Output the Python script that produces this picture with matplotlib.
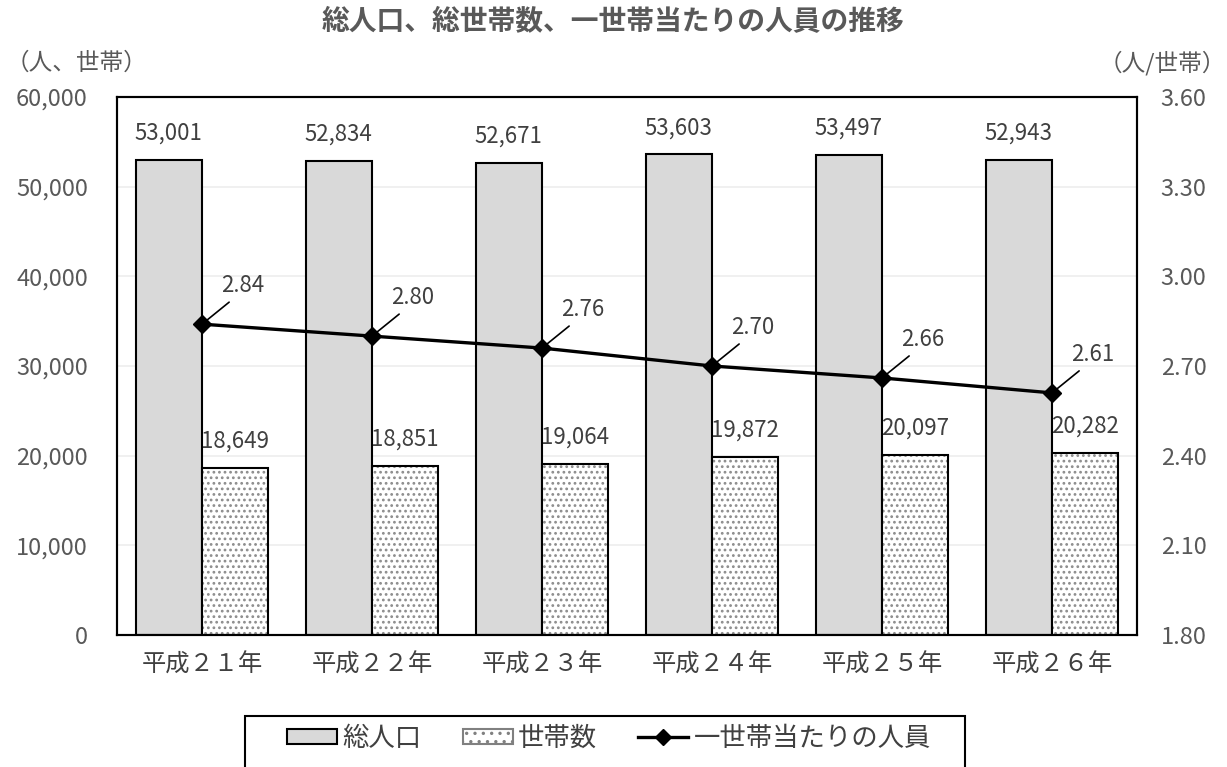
import matplotlib
matplotlib.use("Agg")
import matplotlib.pyplot as plt
import numpy as np
from matplotlib.patches import Patch, Rectangle
from matplotlib.lines import Line2D

plt.rcParams['font.family'] = ['Noto Sans CJK JP', 'DejaVu Sans']
plt.rcParams['hatch.linewidth'] = 1.2

categories = ["平成２１年", "平成２２年", "平成２３年", "平成２４年", "平成２５年", "平成２６年"]
population = [53001, 52834, 52671, 53603, 53497, 52943]
households = [18649, 18851, 19064, 19872, 20097, 20282]
per_household = [2.84, 2.80, 2.76, 2.70, 2.66, 2.61]

left_ticks = [0, 10000, 20000, 30000, 40000, 50000, 60000]
right_ticks = [1.80, 2.10, 2.40, 2.70, 3.00, 3.30, 3.60]

GRAY = "#595959"
fig = plt.figure(figsize=(12.27, 7.67), dpi=100)
ax = fig.add_axes([117/1227, 1-635/767, 1020/1227, 538/767])
ax2 = ax.twinx()

x = np.arange(len(categories))
w = 0.39
ax.bar(x - w/2, population, w, color="#D9D9D9", edgecolor="black", linewidth=1.5, zorder=2)
ax.bar(x + w/2, households, w, color="white", edgecolor="#8C8C8C", hatch="...", linewidth=0, zorder=2)
ax.bar(x + w/2, households, w, color="none", edgecolor="black", linewidth=1.5, zorder=3)

for xi, v in zip(x, population):
    ax.text(xi - w/2, v + 1700, f"{v:,}", ha="center", va="bottom", fontsize=16, color="#404040")
for xi, v in zip(x, households):
    ax.text(xi + w/2, v + 1700, f"{v:,}", ha="center", va="bottom", fontsize=16, color="#404040")

ax.set_ylim(0, 60000)
ax.set_xlim(-0.5, len(categories) - 0.5)
ax.set_yticks(left_ticks)
ax.set_yticklabels([f"{t:,}" for t in left_ticks])
ax.set_xticks(x)
ax.set_xticklabels(categories)
ax.tick_params(axis='y', length=0, pad=21, labelsize=17, labelcolor=GRAY)
ax.tick_params(axis='x', length=0, pad=12, labelsize=17.5, labelcolor="#404040")
ax.grid(axis='y', color="#EDEDED", linewidth=1.2, zorder=0)
ax.set_axisbelow(True)
for s in ax.spines.values():
    s.set_color("black"); s.set_linewidth(1.5)
for s in ax2.spines.values():
    s.set_color("black"); s.set_linewidth(1.5)

ax2.plot(x, per_household, color="black", linewidth=2.4, marker="D", markersize=9, zorder=5)
ax2.set_ylim(1.80, 3.60)
ax2.set_yticks(right_ticks)
ax2.set_yticklabels([f"{t:.2f}" for t in right_ticks])
ax2.tick_params(axis='y', length=0, pad=17, labelsize=17, labelcolor=GRAY)

for xi, v in zip(x, per_household):
    ax2.annotate(f"{v:.2f}", xy=(xi, v), xytext=(29, 28), textcoords="offset points",
                 ha="center", va="center", fontsize=16, color="#404040",
                 arrowprops=dict(arrowstyle="-", color="black", lw=1.2, shrinkA=3, shrinkB=2,
                                 relpos=(0.35, 0.0)))

fig.text(0.5, 1-22/767, "総人口、総世帯数、一世帯当たりの人員の推移", ha="center", va="center",
         fontsize=20, fontweight="bold", color=GRAY)
fig.text(6/1227, 1-63/767, "（人、世帯）", ha="left", va="center", fontsize=17, color=GRAY)
fig.text(1226/1227, 1-63/767, "（人/世帯）", ha="right", va="center", fontsize=17, color=GRAY)

handles = [Patch(facecolor="#D9D9D9", edgecolor="black", linewidth=1.5),
           Patch(facecolor="white", edgecolor="#808080", hatch="..", linewidth=1.5),
           Line2D([0], [0], color="black", linewidth=2.4, marker="D", markersize=8)]
leg = fig.legend(handles, ["総人口", "世帯数", "一世帯当たりの人員"], loc="center",
                 bbox_to_anchor=(609/1227, 1-738/767), ncol=3, frameon=False,
                 fontsize=19, handlelength=1.9, handleheight=0.5,
                 columnspacing=1.55, handletextpad=0.2, labelcolor="#404040")
fig.patches.append(Rectangle((245/1227, -0.02), (965-245)/1227, (767-716)/767 + 0.02,
                             transform=fig.transFigure, fill=False, edgecolor="black",
                             linewidth=1.5))

fig.savefig("out.png", dpi=100)
